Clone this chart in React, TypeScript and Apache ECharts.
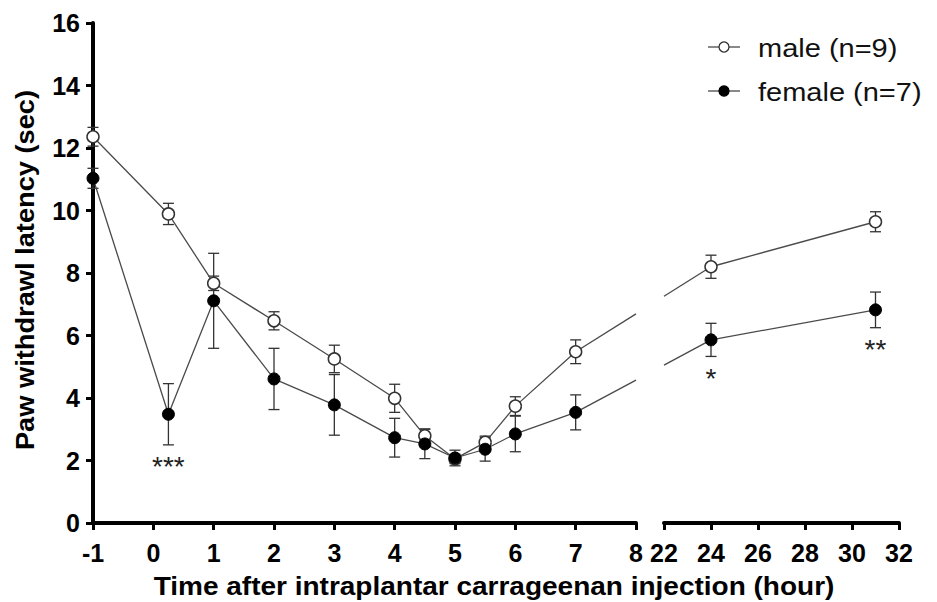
import React, { useEffect, useRef } from 'react';
import * as echarts from 'echarts';

// ---- data ----
const timesLeft = [-1, 0.25, 1, 2, 3, 4, 4.5, 5, 5.5, 6, 7];
const timesRight = [24, 31];
const maleMean = [12.36, 9.89, 7.67, 6.47, 5.25, 3.99, 2.79, 2.05, 2.58, 3.74, 5.48, 8.2, 9.64];
const maleSem = [0.3, 0.34, 0.23, 0.29, 0.44, 0.45, 0.22, 0.15, 0.2, 0.3, 0.38, 0.37, 0.32];
const femaleMean = [11.03, 3.48, 7.11, 4.61, 3.78, 2.73, 2.53, 2.08, 2.36, 2.85, 3.54, 5.86, 6.82];
const femaleSem = [0.32, 0.98, 1.52, 0.98, 0.97, 0.62, 0.47, 0.25, 0.38, 0.57, 0.56, 0.53, 0.57];
const femaleSig = ['', '***', '', '', '', '', '', '', '', '', '', '*', '**'];
const xLeftMin = -1, xLeftMax = 8, xLeftStep = 1;
const xRightMin = 22, xRightMax = 32, xRightStep = 2;
const yMin = 0, yMax = 16, yStep = 2;
const MALE = 'male (n=9)';
const FEMALE = 'female (n=7)';
const xTitle = 'Time after intraplantar carrageenan injection (hour)';
const yTitle = 'Paw withdrawl latency (sec)';

const FONT = "'Liberation Sans', Arial, sans-serif";
const allTimes = [...timesLeft, ...timesRight];
const nLeft = timesLeft.length;

const LINE_COLOR = '#4a4a4a';
const ERR_COLOR = '#333';

const errRender = (params: any, api: any) => {
  const x = api.value(0), m = api.value(1), e = api.value(2);
  const t = api.coord([x, m + e]);
  const b = api.coord([x, m - e]);
  const w = 5.5;
  const style = { stroke: ERR_COLOR, lineWidth: 1.3 };
  return {
    type: 'group',
    children: [
      { type: 'line', shape: { x1: t[0], y1: t[1], x2: b[0], y2: b[1] }, style },
      { type: 'line', shape: { x1: t[0] - w, y1: t[1], x2: t[0] + w, y2: t[1] }, style },
      { type: 'line', shape: { x1: b[0] - w, y1: b[1], x2: b[0] + w, y2: b[1] }, style },
    ],
  };
};

function triples(mean: number[], sem: number[], from: number, to: number) {
  const out: number[][] = [];
  for (let i = from; i < to; i++) out.push([allTimes[i], mean[i], sem[i]]);
  return out;
}

function pairs(mean: number[], from: number, to: number) {
  const out: number[][] = [];
  for (let i = from; i < to; i++) out.push([allTimes[i], mean[i]]);
  return out;
}

const sigLeft: string[] = [];
const sigRight: string[] = [];
const sigDataLeft: number[][] = [];
const sigDataRight: number[][] = [];
femaleSig.forEach((s, i) => {
  if (!s) return;
  if (i < nLeft) { sigLeft.push(s); sigDataLeft.push([allTimes[i], femaleMean[i], femaleSem[i]]); }
  else { sigRight.push(s); sigDataRight.push([allTimes[i], femaleMean[i], femaleSem[i]]); }
});

const makeSigRender = (labels: string[]) => (params: any, api: any) => {
  const p = api.coord([api.value(0), api.value(1) - api.value(2)]);
  return {
    type: 'text',
    x: p[0],
    y: p[1] + 8,
    style: {
      text: labels[params.dataIndex],
      fontSize: 28,
      fontFamily: FONT,
      fill: '#222',
      align: 'center',
      verticalAlign: 'top',
    },
  };
};

const axisCommon = {
  axisLine: { show: true, onZero: false, lineStyle: { color: '#000', width: 4 } },
  axisTick: { show: true, length: 7, lineStyle: { color: '#000', width: 3 } },
  splitLine: { show: false },
};
const labelStyle = { fontSize: 25, fontWeight: 'bold', fontFamily: FONT, color: '#000' };

const maleItem = { color: '#fff', borderColor: '#333', borderWidth: 1.5 };
const femaleItem = { color: '#000', borderColor: '#000', borderWidth: 1 };

function lineSeries(name: string, mean: number[], grid: number, from: number, to: number, item: any, z: number) {
  return {
    name,
    type: 'line',
    xAxisIndex: grid,
    yAxisIndex: grid,
    data: pairs(mean, from, to),
    symbol: 'circle',
    symbolSize: 12,
    itemStyle: item,
    lineStyle: { color: LINE_COLOR, width: 1.3 },
    clip: false,
    z,
  };
}

function bridgeSeries(id: string, grid: number, data: number[][]) {
  return {
    id,
    name: id,
    type: 'line',
    xAxisIndex: grid,
    yAxisIndex: grid,
    data,
    showSymbol: false,
    symbol: 'none',
    lineStyle: { color: LINE_COLOR, width: 1.3 },
    silent: true,
    z: 3,
  };
}

// legend drawn as graphic (line + marker + stretched text)
const legendItems = [
  { label: MALE, fill: '#fff', stroke: '#333' },
  { label: FEMALE, fill: '#000', stroke: '#000' },
];
function legendGraphic() {
  const x0 = 708, y0 = 47, rowGap = 44, w = 32;
  const children: any[] = [];
  legendItems.forEach((it, i) => {
    const y = y0 + i * rowGap;
    children.push({ type: 'line', shape: { x1: x0, y1: y, x2: x0 + w, y2: y }, style: { stroke: LINE_COLOR, lineWidth: 1.3 } });
    children.push({ type: 'circle', shape: { cx: x0 + w / 2, cy: y, r: 5 }, style: { fill: it.fill, stroke: it.stroke, lineWidth: 1.3 } });
    children.push({
      type: 'text', x: 758, y: y + 1, scaleX: 1.16,
      style: { text: it.label, fontSize: 25, fontFamily: FONT, fill: '#111', align: 'left', verticalAlign: 'middle' },
    });
  });
  return { type: 'group', children };
}

function baseOption(bridges: any[]) {
  return {
    animation: false,
    backgroundColor: '#fff',
    grid: [
      { left: 93, top: 23, width: 543, height: 500 },
      { left: 664, top: 23, width: 235, height: 500 },
    ],
    xAxis: [
      {
        type: 'value', gridIndex: 0, min: xLeftMin, max: xLeftMax, interval: xLeftStep,
        ...axisCommon,
        axisLabel: { ...labelStyle, margin: 17, showMinLabel: true, showMaxLabel: true },
      },
      {
        type: 'value', gridIndex: 1, min: xRightMin, max: xRightMax, interval: xRightStep,
        ...axisCommon,
        axisLabel: { ...labelStyle, margin: 17, showMinLabel: true, showMaxLabel: true },
      },
    ],
    yAxis: [
      {
        type: 'value', gridIndex: 0, min: yMin, max: yMax, interval: yStep,
        ...axisCommon,
        axisLabel: { ...labelStyle, margin: 13 },
      },
      { type: 'value', gridIndex: 1, min: yMin, max: yMax, interval: yStep, show: false },
    ],
    graphic: [
      {
        type: 'text', x: 494, y: 587, scaleX: 1.12,
        style: { text: xTitle, fontSize: 25, fontWeight: 'bold', fontFamily: FONT, fill: '#000', align: 'center', verticalAlign: 'middle' },
      },
      {
        type: 'text', x: 25, y: 270, rotation: Math.PI / 2, scaleX: 1.09,
        style: { text: yTitle, fontSize: 25, fontWeight: 'bold', fontFamily: FONT, fill: '#000', align: 'center', verticalAlign: 'middle' },
      },
      legendGraphic(),
    ],
    series: [
      { type: 'custom', xAxisIndex: 0, yAxisIndex: 0, renderItem: errRender, data: triples(maleMean, maleSem, 0, nLeft), z: 2, silent: true },
      { type: 'custom', xAxisIndex: 1, yAxisIndex: 1, renderItem: errRender, data: triples(maleMean, maleSem, nLeft, allTimes.length), z: 2, silent: true },
      { type: 'custom', xAxisIndex: 0, yAxisIndex: 0, renderItem: errRender, data: triples(femaleMean, femaleSem, 0, nLeft), z: 2, silent: true },
      { type: 'custom', xAxisIndex: 1, yAxisIndex: 1, renderItem: errRender, data: triples(femaleMean, femaleSem, nLeft, allTimes.length), z: 2, silent: true },
      lineSeries(MALE, maleMean, 0, 0, nLeft, maleItem, 4),
      lineSeries(MALE, maleMean, 1, nLeft, allTimes.length, maleItem, 4),
      lineSeries(FEMALE, femaleMean, 0, 0, nLeft, femaleItem, 5),
      lineSeries(FEMALE, femaleMean, 1, nLeft, allTimes.length, femaleItem, 5),
      { type: 'custom', xAxisIndex: 0, yAxisIndex: 0, renderItem: makeSigRender(sigLeft), data: sigDataLeft, z: 6, silent: true },
      { type: 'custom', xAxisIndex: 1, yAxisIndex: 1, renderItem: makeSigRender(sigRight), data: sigDataRight, z: 6, silent: true },
      ...bridges,
    ],
  };
}

function computeBridges(chart: any) {
  const out: any[] = [];
  const a = nLeft - 1; // last left point
  const b = nLeft; // first right point
  const leftEndPx = chart.convertToPixel({ gridIndex: 0 }, [xLeftMax, yMin])[0];
  const rightStartPx = chart.convertToPixel({ gridIndex: 1 }, [xRightMin, yMin])[0];
  ([['male', maleMean], ['female', femaleMean]] as [string, number[]][]).forEach(([key, mean]) => {
    const pA = chart.convertToPixel({ gridIndex: 0 }, [allTimes[a], mean[a]]);
    const pB = chart.convertToPixel({ gridIndex: 1 }, [allTimes[b], mean[b]]);
    const yAt = (px: number) => pA[1] + ((pB[1] - pA[1]) * (px - pA[0])) / (pB[0] - pA[0]);
    const lv = chart.convertFromPixel({ gridIndex: 0 }, [leftEndPx, yAt(leftEndPx)]);
    const rv = chart.convertFromPixel({ gridIndex: 1 }, [rightStartPx, yAt(rightStartPx)]);
    out.push(bridgeSeries(key + '-bridge-left', 0, [[allTimes[a], mean[a]], [xLeftMax, lv[1]]]));
    out.push(bridgeSeries(key + '-bridge-right', 1, [[xRightMin, rv[1]], [allTimes[b], mean[b]]]));
  });
  return out;
}

export default function App() {
  const ref = useRef<HTMLDivElement>(null);
  useEffect(() => {
    if (!ref.current) return;
    const chart = echarts.init(ref.current, null, { renderer: 'svg' });
    chart.setOption(baseOption([]) as any);
    const bridges = computeBridges(chart);
    chart.setOption(baseOption(bridges) as any, { notMerge: true });
    return () => chart.dispose();
  }, []);
  return (
    <div
      ref={ref}
      style={{ position: 'absolute', left: 0, top: 0, width: 937, height: 602, background: '#fff' }}
    />
  );
}
